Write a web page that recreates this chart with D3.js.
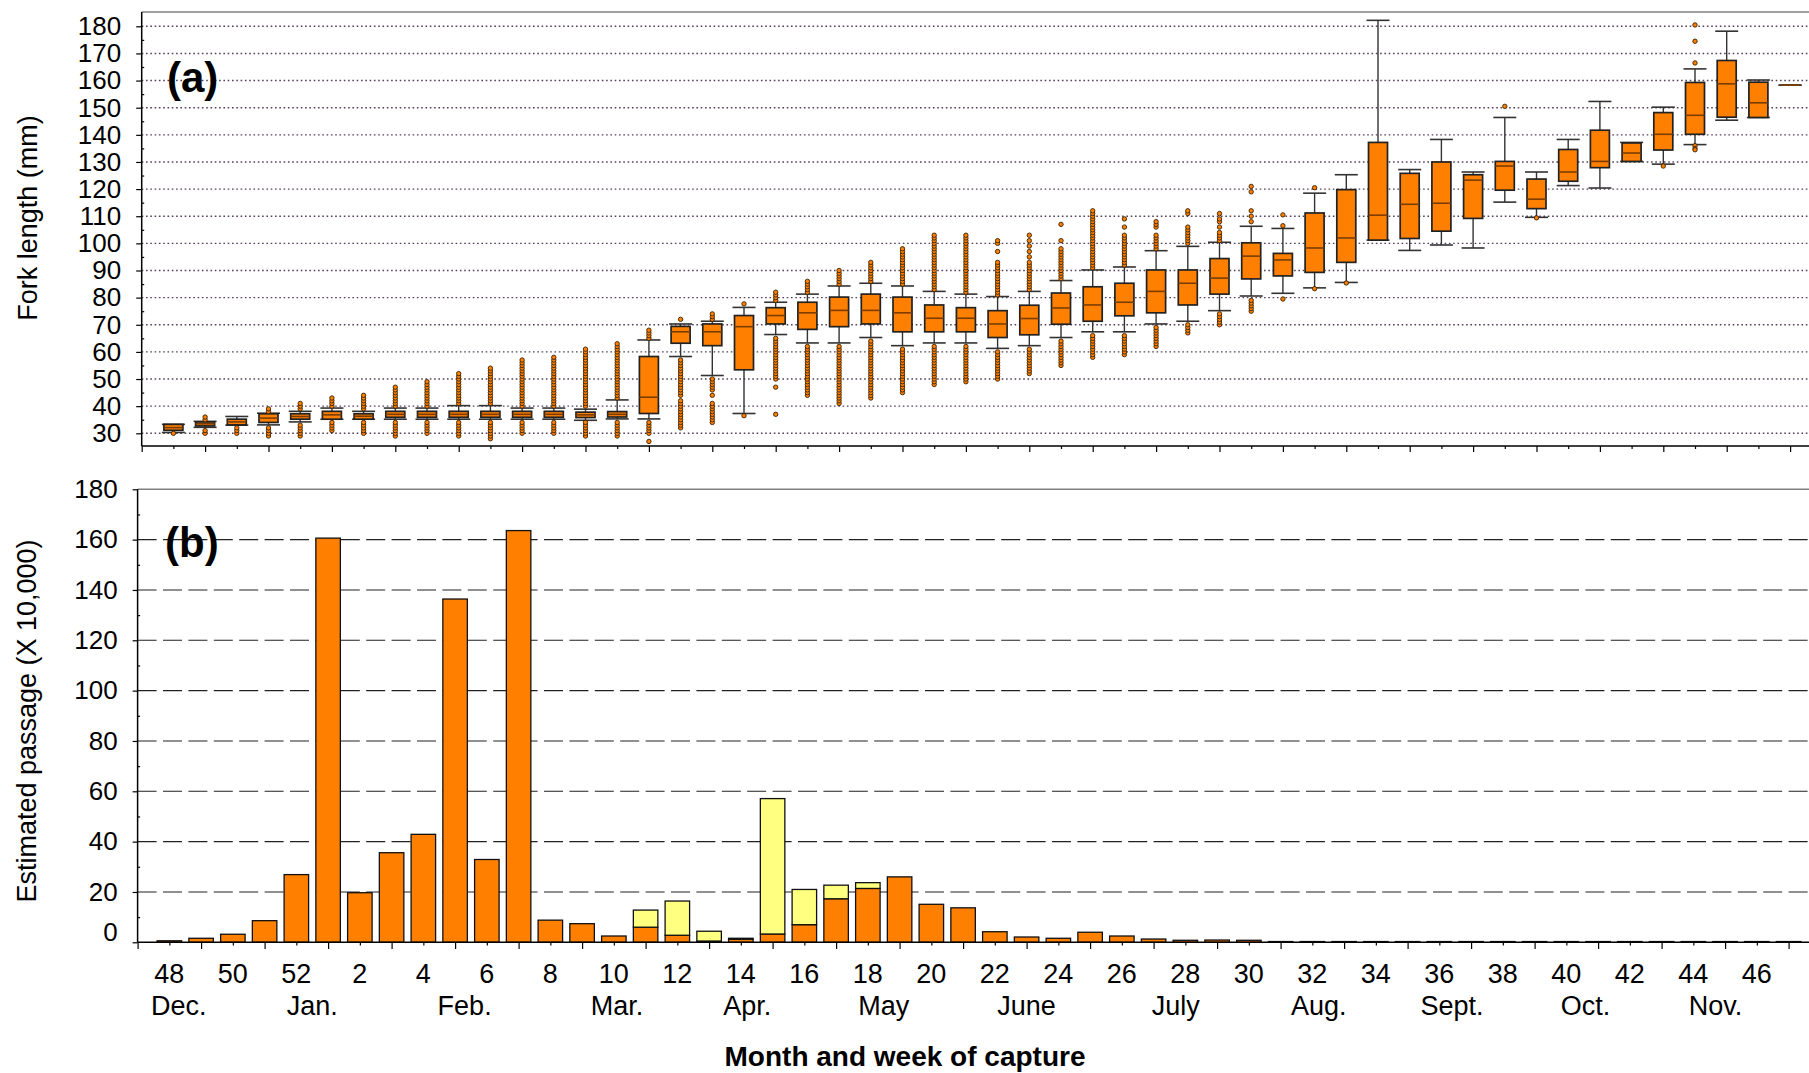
<!DOCTYPE html>
<html>
<head>
<meta charset="utf-8">
<script src="https://cdn.jsdelivr.net/npm/d3@7"></script>
<style>
  body { margin: 0; background: #fff; }
  svg { display: block; }
  text { font-family: "Liberation Sans", Arial, sans-serif; fill: #000; }
</style>
</head>
<body>
<div id="chart"></div>
<script>
// weeks of capture, Dec. (wk 48) through Nov. (wk 47)
const weeks = [48, 49, 50, 51, 52, 1, 2, 3, 4, 5, 6, 7, 8, 9, 10, 11, 12, 13, 14, 15, 16, 17, 18, 19, 20,
  21, 22, 23, 24, 25, 26, 27, 28, 29, 30, 31, 32, 33, 34, 35, 36, 37, 38, 39, 40, 41, 42, 43, 44, 45, 46, 47];

// (a) fork length box plots (mm)
const whiskerLow = [30.3, 32.2, 33.0, 33.1, 34.2, 35.2, 35.2, 35.2, 35.2, 35.2, 35.2, 35.2, 35.2, 34.8, 35.3,
  35.3, 58.3, 51.3, 37.3, 66.4, 63.3, 63.3, 65.3, 62.3, 63.3, 63.3, 61.3, 62.3, 65.3, 67.4, 67.4, 70.3, 71.3,
  75.2, 80.6, 81.6, 83.6, 85.6, 101.2, 97.4, 99.4, 98.3, 115.2, 109.6, 121.3, 120.4, 130.2, 129.2, 136.4,
  145.4, 146.4, 158.3];
const q1 = [31.1, 32.7, 33.1, 34.0, 35.2, 35.2, 35.2, 35.9, 35.9, 35.9, 35.9, 35.9, 35.9, 35.8, 36.0,
  37.3, 63.2, 62.3, 53.4, 70.3, 68.3, 69.3, 70.3, 67.4, 67.4, 67.4, 65.3, 66.3, 70.2, 71.3, 73.3, 74.4, 77.3,
  81.3, 86.9, 88.0, 89.3, 93.0, 101.2, 101.8, 104.5, 109.2, 119.6, 112.8, 122.9, 127.9, 130.2, 134.4, 140.2,
  146.5, 146.4, 158.3];
const median = [32.1, 33.5, 34.2, 35.6, 36.2, 36.8, 36.3, 37.0, 37.0, 37.0, 37.0, 37.0, 37.0, 36.8, 37.0,
  43.3, 67.4, 67.4, 69.3, 73.4, 74.4, 75.3, 75.3, 74.4, 72.4, 72.4, 70.3, 72.3, 76.2, 77.3, 78.3, 82.3, 85.3,
  87.2, 95.3, 93.9, 98.3, 102.0, 110.4, 114.4, 114.8, 123.3, 128.5, 116.3, 126.3, 130.2, 133.3, 140.2, 147.2,
  158.8, 151.8, 158.3];
const q3 = [33.3, 34.2, 35.2, 37.2, 37.2, 38.1, 37.2, 38.1, 38.1, 38.1, 38.1, 38.1, 38.1, 37.8, 38.0,
  58.3, 69.4, 70.3, 73.4, 76.3, 78.3, 80.2, 81.3, 80.2, 77.3, 76.3, 75.2, 77.2, 81.7, 84.0, 85.3, 90.2, 90.2,
  94.4, 100.2, 96.3, 111.2, 119.8, 137.2, 125.8, 130.0, 125.3, 130.2, 123.7, 134.6, 141.7, 137.0, 148.2, 159.3,
  167.4, 159.4, 158.3];
const whiskerHigh = [33.3, 34.4, 36.2, 37.4, 38.1, 39.3, 38.1, 39.3, 39.3, 40.2, 40.2, 39.3, 39.3, 38.9, 42.3,
  64.4, 70.3, 71.3, 76.4, 78.3, 81.3, 84.3, 85.3, 84.3, 82.3, 81.3, 80.4, 82.3, 86.3, 90.2, 91.3, 97.3, 98.9,
  100.4, 106.3, 105.5, 118.5, 125.3, 182.2, 127.2, 138.3, 126.3, 146.4, 126.3, 138.3, 152.3, 137.2, 150.2, 164.3,
  178.2, 160.2, 158.3];
// outliers: single values, or [from, to] runs of whole-mm lengths
const outliers = [
  [30], [[35, 36], [30, 31]], [[30, 32]], [38, 39, [29, 32]], [[39, 41], [29, 33]],
  [[40, 43], [31, 34]], [[39, 44], [30, 34]], [[40, 47], [29, 34]], [[40, 49], [30, 34]], [[41, 52], [29, 34]],
  [[41, 54], [28, 34]], [[40, 57], [30, 34]], [[40, 58], [30, 34]], [[40, 61], [29, 34]], [[43, 63], [29, 34]],
  [[65, 68], [30, 34], 27], [72, [44, 57], [32, 42]], [[72, 74], [46, 50], 44, [34, 41]], [77.7, 36.5],
  [[79, 82], [50, 65], 47, 37], [[82, 86], [44, 62]], [[85, 90], [41, 62]], [[86, 93], [43, 64]],
  [[85, 98], [45, 61]], [[83, 103], [48, 62]], [[82, 103], [49, 62]], [[81, 93], 97, 100, 101, [50, 60]],
  [[83, 93], 95, 97, 99, 101, 103, [52, 61]], [[87, 98], 101, 107, [55, 64]], [[91, 112], [58, 66]],
  [[92, 103], 106, 109, [59, 66]], [[98, 103], 106, 107, 108, [62, 69]], [[100, 106], 111, 112, [67, 70]],
  [[101, 104], 106, 108, 109, 111, [70, 74]], [108, 110, 112, 119, 121, [75, 79]], [106.5, 110.5, 79.5],
  [120.5, 83.3], [85.4], [], [], [], [], [150.5], [109.4], [], [], [], [128.5],
  [166.5, 174.5, 180.5, 136, 135, 134.5], [], [], []
];

// (b) estimated passage (x 10,000)
const passageOrange = [0.6, 1.6, 3.2, 8.6, 26.9, 160.6, 19.7, 35.6, 42.9, 136.4, 32.9, 163.6, 8.8, 7.4, 2.5,
  6.0, 2.8, 0.5, 1.2, 3.3, 7.0, 17.3, 21.4, 26.0, 15.1, 13.7, 4.2, 2.1, 1.6, 4.0, 2.5, 1.3, 0.8, 0.9, 0.8,
  0.3, 0.3, 0.3, 0.3, 0.3, 0.3, 0.3, 0.3, 0.3, 0.3, 0.3, 0.3, 0.3, 0.3, 0.3, 0.3, 0.3];
const passageYellow = [0, 0, 0, 0, 0, 0, 0, 0, 0, 0, 0, 0, 0, 0, 0,
  6.8, 13.6, 3.9, 0.4, 53.8, 14.0, 5.4, 2.3, 0, 0, 0, 0, 0, 0, 0, 0, 0, 0, 0, 0,
  0, 0, 0, 0, 0, 0, 0, 0, 0, 0, 0, 0, 0, 0, 0, 0, 0];

const lengthTicks = [30, 40, 50, 60, 70, 80, 90, 100, 110, 120, 130, 140, 150, 160, 170, 180];
const lengthMinor = [35, 45, 55, 65, 75, 85, 95, 105, 115, 125, 135, 145, 155, 165, 175];
const passageTicks = [0, 20, 40, 60, 80, 100, 120, 140, 160, 180];
const passageMinor = [10, 30, 50, 70, 90, 110, 130, 150, 170];
const weekLabels = [48, 50, 52, 2, 4, 6, 8, 10, 12, 14, 16, 18, 20, 22, 24, 26, 28, 30, 32, 34, 36, 38, 40, 42, 44, 46];
const monthNames = ['Dec.', 'Jan.', 'Feb.', 'Mar.', 'Apr.', 'May', 'June', 'July', 'Aug.', 'Sept.', 'Oct.', 'Nov.'];
const monthAt = [0.3, 4.5, 9.3, 14.1, 18.2, 22.5, 27.0, 31.7, 36.2, 40.4, 44.6, 48.7]; // week index

const COLORS = {
  orange: '#ff8000', yellow: '#ffff80', median: '#7a3c00', dot: '#3a2000',
  frame: '#808080', gridA: '#55405a', gridB: '#222',
};

const W = 1809, H = 1073;
const svg = d3.select('#chart').append('svg').attr('width', W).attr('height', H);

// ── (a) fork length ─────────────────────────────────────────────────────────
const A = { left: 141.7, top: 12, right: W, bottom: 446 };
const xA = d3.scaleLinear().domain([-1, 51]).range([A.left, A.left + 52 * 31.7]);
const yA = d3.scaleLinear().domain([30, 180]).range([433.3, 26.3]);
const gA = svg.append('g');

gA.append('g').selectAll('line').data(lengthTicks).join('line')
  .attr('x1', A.left).attr('x2', A.right)
  .attr('y1', d => yA(d)).attr('y2', d => yA(d))
  .attr('stroke', COLORS.gridA).attr('stroke-width', 1.4).attr('stroke-dasharray', '1.6,2.7');

const boxW = 19, capW = 23;
const boxes = gA.append('g').selectAll('g').data(weeks.map((w, i) => i)).join('g')
  .attr('transform', i => `translate(${xA(i)},0)`);
boxes.append('line')
  .attr('y1', i => yA(whiskerHigh[i])).attr('y2', i => yA(whiskerLow[i]))
  .attr('stroke', '#333').attr('stroke-width', 1.4);
boxes.selectAll('.cap').data(i => [whiskerLow[i], whiskerHigh[i]]).join('line')
  .attr('class', 'cap')
  .attr('x1', -capW / 2).attr('x2', capW / 2)
  .attr('y1', d => yA(d)).attr('y2', d => yA(d))
  .attr('stroke', '#333').attr('stroke-width', 1.6);
boxes.append('rect')
  .attr('x', -boxW / 2).attr('width', boxW)
  .attr('y', i => yA(q3[i])).attr('height', i => yA(q1[i]) - yA(q3[i]))
  .attr('fill', COLORS.orange).attr('stroke', '#222').attr('stroke-width', 1.7);
boxes.append('line')
  .attr('x1', -boxW / 2).attr('x2', boxW / 2)
  .attr('y1', i => yA(median[i])).attr('y2', i => yA(median[i]))
  .attr('stroke', COLORS.median).attr('stroke-width', 1.6);
boxes.selectAll('circle')
  .data(i => outliers[i].flatMap(v => Array.isArray(v) ? d3.range(v[0], v[1] + 1) : [v]))
  .join('circle')
  .attr('cy', d => yA(d)).attr('r', 2.2)
  .attr('fill', COLORS.orange).attr('stroke', COLORS.dot).attr('stroke-width', 0.9);

// frame and axes
gA.append('line').attr('x1', A.left).attr('x2', A.right).attr('y1', A.top).attr('y2', A.top)
  .attr('stroke', COLORS.frame).attr('stroke-width', 1.6);
gA.append('line').attr('x1', A.left).attr('x2', A.left).attr('y1', A.top).attr('y2', A.bottom)
  .attr('stroke', '#000').attr('stroke-width', 1.5);
gA.append('line').attr('x1', A.left).attr('x2', A.right).attr('y1', A.bottom).attr('y2', A.bottom)
  .attr('stroke', '#000').attr('stroke-width', 1.5);

const styleAxis = ax => {
  ax.select('.domain').remove();
  ax.selectAll('line').attr('stroke', '#000').attr('stroke-width', 1.2);
  ax.selectAll('text').attr('font-size', 26).attr('fill', '#000')
    .attr('font-family', '"Liberation Sans", Arial, sans-serif');
};

gA.append('g').attr('transform', `translate(${A.left},0)`)
  .call(d3.axisLeft(yA).tickValues(lengthTicks).tickSize(5.5).tickPadding(15))
  .call(styleAxis);
gA.append('g').attr('transform', `translate(${A.left},0)`)
  .call(d3.axisRight(yA).tickValues(lengthMinor).tickSize(2.5).tickFormat(''))
  .call(styleAxis);

const oddIdx = d3.range(-1, 52, 2), evenIdx = d3.range(0, 52, 2);
gA.append('g').attr('transform', `translate(0,${A.bottom})`)
  .call(d3.axisBottom(xA).tickValues(oddIdx).tickSize(6).tickFormat(''))
  .call(styleAxis);
gA.append('g').attr('transform', `translate(0,${A.bottom})`)
  .call(d3.axisBottom(xA).tickValues(evenIdx).tickSize(3).tickFormat(''))
  .call(styleAxis);

svg.append('text').attr('x', 167).attr('y', 92)
  .attr('font-size', 42).attr('font-weight', 'bold').text('(a)');
svg.append('text')
  .attr('transform', `translate(37,218) rotate(-90)`)
  .attr('text-anchor', 'middle').attr('font-size', 27)
  .text('Fork length (mm)');

// ── (b) estimated passage ──────────────────────────────────────────────────
const B = { left: 137.6, top: 489.3, right: W, bottom: 942.3 };
const xB = d3.scaleLinear().domain([-1, 51]).range([B.left, B.left + 52 * 31.75]);
const yB = d3.scaleLinear().domain([0, 180]).range([B.bottom, B.top]);
const gB = svg.append('g');

gB.append('g').selectAll('line').data(passageTicks.filter(d => d > 0 && d < 180)).join('line')
  .attr('x1', B.left).attr('x2', B.right)
  .attr('y1', d => yB(d)).attr('y2', d => yB(d))
  .attr('stroke', COLORS.gridB).attr('stroke-width', 1.1).attr('stroke-dasharray', '19,6.4');

const barW = 24.5;
const bars = gB.append('g').selectAll('g').data(weeks.map((w, i) => i)).join('g');
bars.append('rect')
  .attr('x', i => xB(i) - barW / 2).attr('width', barW)
  .attr('y', i => yB(passageOrange[i])).attr('height', i => yB(0) - yB(passageOrange[i]))
  .attr('fill', COLORS.orange).attr('stroke', '#111').attr('stroke-width', 1.3);
bars.filter(i => passageYellow[i] > 0).append('rect')
  .attr('x', i => xB(i) - barW / 2).attr('width', barW)
  .attr('y', i => yB(passageOrange[i] + passageYellow[i]))
  .attr('height', i => yB(passageOrange[i]) - yB(passageOrange[i] + passageYellow[i]))
  .attr('fill', COLORS.yellow).attr('stroke', '#111').attr('stroke-width', 1.3);

gB.append('line').attr('x1', B.left).attr('x2', B.right).attr('y1', B.top).attr('y2', B.top)
  .attr('stroke', COLORS.frame).attr('stroke-width', 1.6);
gB.append('line').attr('x1', B.left).attr('x2', B.left).attr('y1', B.top).attr('y2', B.bottom)
  .attr('stroke', '#000').attr('stroke-width', 1.5);
gB.append('line').attr('x1', B.left).attr('x2', B.right).attr('y1', B.bottom).attr('y2', B.bottom)
  .attr('stroke', '#000').attr('stroke-width', 1.5);

gB.append('g').attr('transform', `translate(${B.left},0)`)
  .call(d3.axisLeft(yB).tickValues(passageTicks).tickSize(5).tickPadding(15))
  .call(styleAxis)
  .call(ax => ax.selectAll('text').filter(d => d === 0).attr('y', -10));
gB.append('g').attr('transform', `translate(${B.left},0)`)
  .call(d3.axisRight(yB).tickValues(passageMinor).tickSize(2.5).tickFormat(''))
  .call(styleAxis);
gB.append('g').attr('transform', `translate(0,${B.bottom})`)
  .call(d3.axisBottom(xB).tickValues(oddIdx).tickSize(6.7).tickFormat(''))
  .call(styleAxis);
gB.append('g').attr('transform', `translate(0,${B.bottom})`)
  .call(d3.axisBottom(xB).tickValues(evenIdx).tickSize(3.3).tickFormat(''))
  .call(styleAxis);

gB.append('g').selectAll('text').data(weekLabels).join('text')
  .attr('x', w => xB(weeks.indexOf(w))).attr('y', 983)
  .attr('text-anchor', 'middle').attr('font-size', 27)
  .text(w => w);
gB.append('g').selectAll('text').data(monthNames).join('text')
  .attr('x', (m, i) => xB(monthAt[i])).attr('y', 1015)
  .attr('text-anchor', 'middle').attr('font-size', 27)
  .text(m => m);

svg.append('text').attr('x', 165).attr('y', 557)
  .attr('font-size', 42).attr('font-weight', 'bold').text('(b)');
svg.append('text')
  .attr('transform', `translate(36,721) rotate(-90)`)
  .attr('text-anchor', 'middle').attr('font-size', 27)
  .text('Estimated passage (X 10,000)');
svg.append('text').attr('x', 905).attr('y', 1066)
  .attr('text-anchor', 'middle').attr('font-size', 28).attr('font-weight', 'bold')
  .text('Month and week of capture');
</script>
</body>
</html>
